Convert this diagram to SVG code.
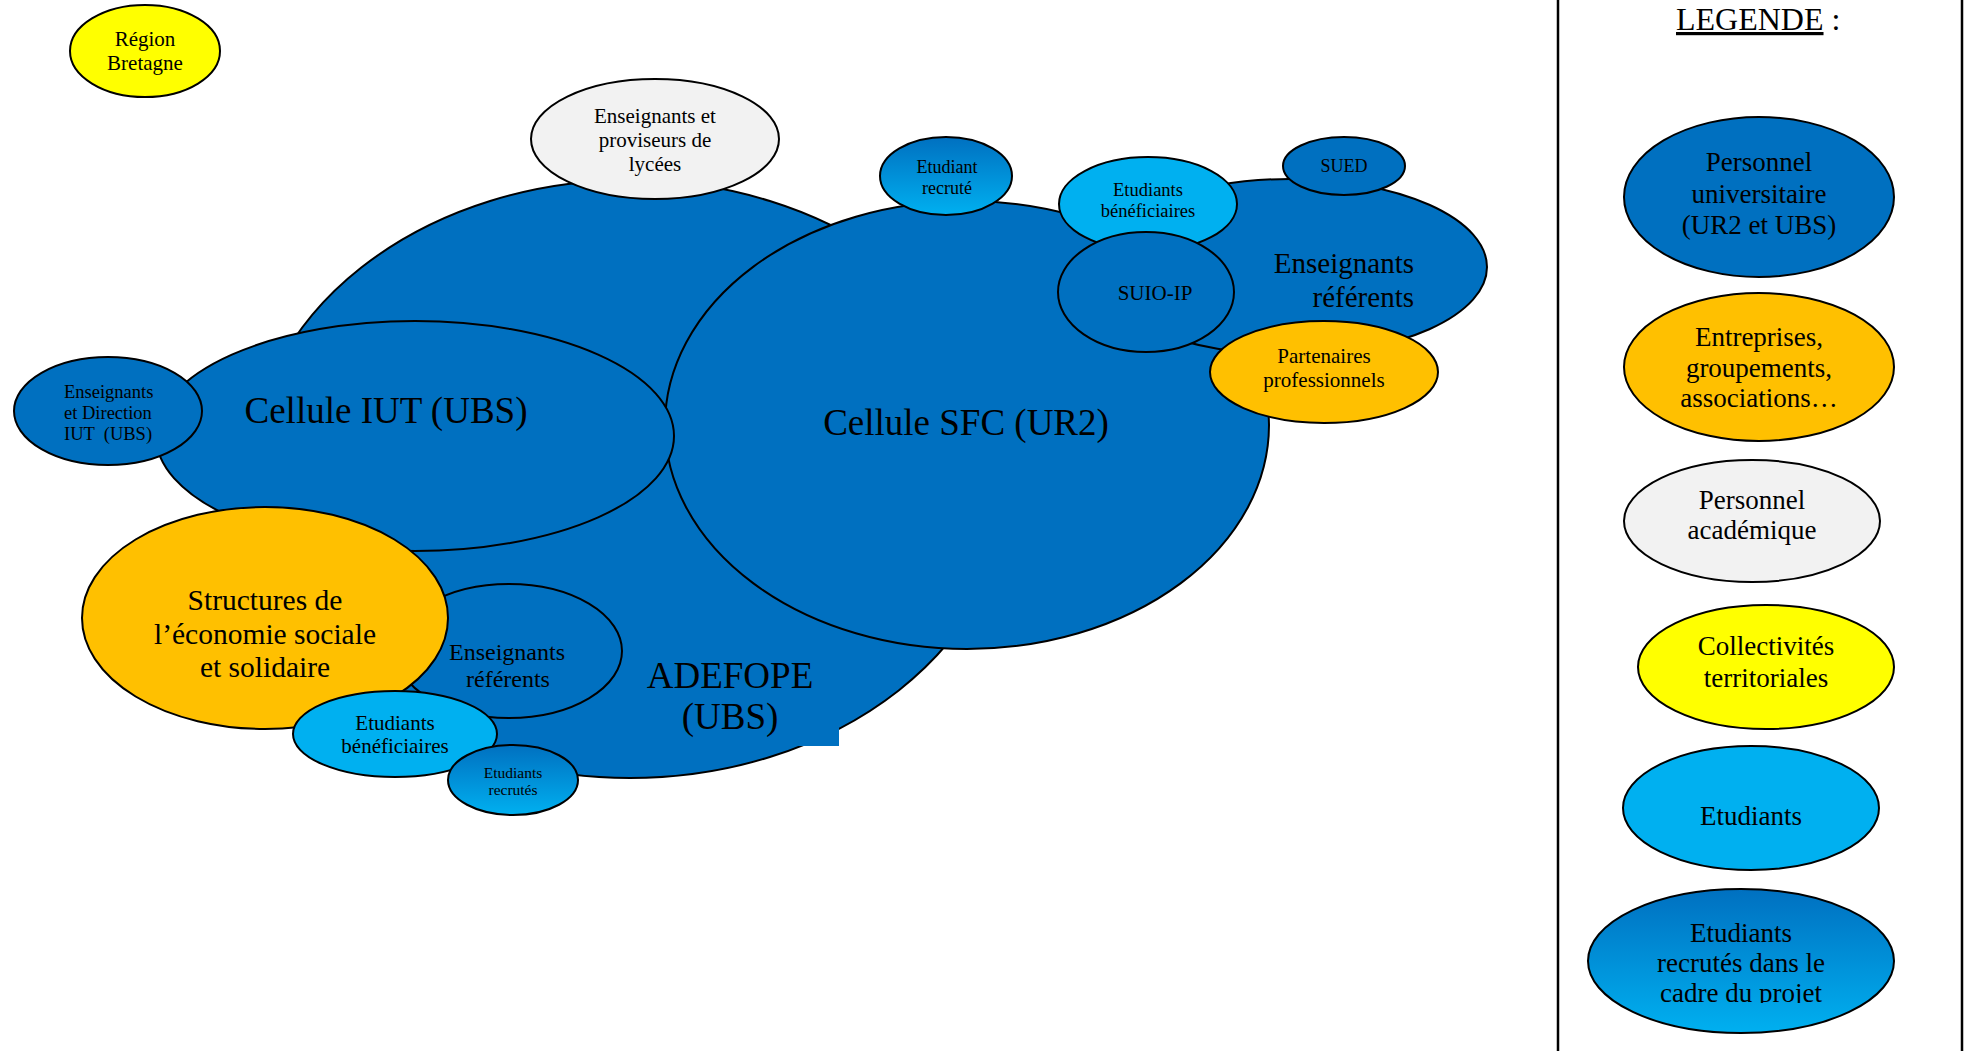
<svg xmlns="http://www.w3.org/2000/svg" width="1966" height="1051" viewBox="0 0 1966 1051">
<style>
.n{stroke:#000;stroke-width:2}
.blue{fill:#0070C0}
.org{fill:#FFC000}
.yel{fill:#FFFF00}
.cyan{fill:#00B0F0}
.grey{fill:#F2F2F2}
.grad{fill:url(#g)}
text{font-family:"Liberation Serif","Times New Roman",serif;fill:#000;text-anchor:middle}
.s{text-anchor:start}
.e{text-anchor:end}
.leg{font-size:27px}
</style>
<defs>
<linearGradient id="g" x1="0" y1="0" x2="0" y2="1"><stop offset="0" stop-color="#0070C0"/><stop offset="1" stop-color="#00B0F0"/></linearGradient>
<clipPath id="clipf"><rect x="1560" y="880" width="400" height="123"/></clipPath>
</defs>
<rect width="1966" height="1051" fill="#fff"/>

<g id="adefope">
<ellipse class="n blue" cx="630" cy="479" rx="380" ry="299"/>
<rect x="645" y="645" width="194" height="101" fill="#0070C0"/>
<text x="730" y="688" font-size="37">ADEFOPE</text>
<text x="730" y="729" font-size="37">(UBS)</text>
</g>

<g id="lycees">
<ellipse class="n grey" cx="655" cy="139" rx="124" ry="60"/>
<text x="655" y="123" font-size="21">Enseignants et</text>
<text x="655" y="147" font-size="21">proviseurs de</text>
<text x="655" y="171" font-size="21">lycées</text>
</g>

<g id="cellule-sfc">
<ellipse class="n blue" cx="967" cy="425" rx="302" ry="224"/>
<text x="966" y="435" font-size="37">Cellule SFC (UR2)</text>
</g>

<g id="cellule-iut">
<ellipse class="n blue" cx="415" cy="436" rx="259" ry="115"/>
<text x="386" y="423" font-size="37">Cellule IUT (UBS)</text>
</g>

<g id="direction-iut">
<ellipse class="n blue" cx="108" cy="411" rx="94" ry="54"/>
<text class="s" x="64" y="398" font-size="18.5">Enseignants</text>
<text class="s" x="64" y="419" font-size="18.5">et Direction</text>
<text class="s" x="64" y="440" font-size="18.5" xml:space="preserve">IUT  (UBS)</text>
</g>

<g id="enseignants-referents-sfc">
<ellipse class="n blue" cx="1290" cy="267" rx="197" ry="88"/>
<text class="e" x="1414" y="273" font-size="29">Enseignants</text>
<text class="e" x="1414" y="307" font-size="29">référents</text>
</g>

<g id="etudiants-beneficiaires-sfc">
<ellipse class="n cyan" cx="1148" cy="204" rx="89" ry="47"/>
<text x="1148" y="196" font-size="18.5">Etudiants</text>
<text x="1148" y="217" font-size="18.5">bénéficiaires</text>
</g>

<g id="suio-ip">
<ellipse class="n blue" cx="1146" cy="292" rx="88" ry="60"/>
<text x="1155" y="300" font-size="21">SUIO-IP</text>
</g>

<g id="sued">
<ellipse class="n blue" cx="1344" cy="166" rx="61" ry="29"/>
<text x="1344" y="172" font-size="18">SUED</text>
</g>

<g id="partenaires">
<ellipse class="n org" cx="1324" cy="372" rx="114" ry="51"/>
<text x="1324" y="363" font-size="21">Partenaires</text>
<text x="1324" y="387" font-size="21">professionnels</text>
</g>

<g id="etudiant-recrute">
<ellipse class="n grad" cx="946" cy="176" rx="66" ry="39"/>
<text x="947" y="173" font-size="18">Etudiant</text>
<text x="947" y="194" font-size="18">recruté</text>
</g>

<g id="enseignants-referents-adefope">
<ellipse class="n blue" cx="509" cy="651" rx="113" ry="67"/>
<text x="507" y="660" font-size="24">Enseignants</text>
<text x="508" y="687" font-size="24">référents</text>
</g>

<g id="structures-ess">
<ellipse class="n org" cx="265" cy="618" rx="183" ry="111"/>
<text x="265" y="610" font-size="29.5">Structures de</text>
<text x="265" y="644" font-size="29.5">l’économie sociale</text>
<text x="265" y="677" font-size="29.5">et solidaire</text>
</g>

<g id="etudiants-beneficiaires-adefope">
<ellipse class="n cyan" cx="395" cy="734" rx="102" ry="43"/>
<text x="395" y="730" font-size="21">Etudiants</text>
<text x="395" y="753" font-size="21">bénéficiaires</text>
</g>

<g id="etudiants-recrutes">
<ellipse class="n grad" cx="513" cy="780" rx="65" ry="35"/>
<text x="513" y="778" font-size="15.5">Etudiants</text>
<text x="513" y="795" font-size="15.5">recrutés</text>
</g>

<g id="region-bretagne">
<ellipse class="n yel" cx="145" cy="51" rx="75" ry="46"/>
<text x="145" y="46" font-size="21">Région</text>
<text x="145" y="70" font-size="21">Bretagne</text>
</g>

<g id="connectors"></g>

<g id="legende">
<line x1="1558" y1="0" x2="1558" y2="1051" stroke="#000" stroke-width="2.5"/>
<line x1="1962" y1="0" x2="1962" y2="1051" stroke="#000" stroke-width="2.5"/>
<text class="s" x="1676" y="30" font-size="32"><tspan text-decoration="underline">LEGENDE</tspan> :</text>
<g id="leg-personnel-universitaire">
<ellipse class="n blue" cx="1759" cy="197" rx="135" ry="80"/>
<text class="leg" x="1759" y="171">Personnel</text>
<text class="leg" x="1759" y="203">universitaire</text>
<text class="leg" x="1759" y="234">(UR2 et UBS)</text>
</g>
<g id="leg-entreprises">
<ellipse class="n org" cx="1759" cy="367" rx="135" ry="74"/>
<text class="leg" x="1759" y="346">Entreprises,</text>
<text class="leg" x="1759" y="377">groupements,</text>
<text class="leg" x="1759" y="407">associations…</text>
</g>
<g id="leg-personnel-academique">
<ellipse class="n grey" cx="1752" cy="521" rx="128" ry="61"/>
<text class="leg" x="1752" y="509">Personnel</text>
<text class="leg" x="1752" y="539">académique</text>
</g>
<g id="leg-collectivites">
<ellipse class="n yel" cx="1766" cy="667" rx="128" ry="62"/>
<text class="leg" x="1766" y="655">Collectivités</text>
<text class="leg" x="1766" y="687">territoriales</text>
</g>
<g id="leg-etudiants">
<ellipse class="n cyan" cx="1751" cy="808" rx="128" ry="62"/>
<text class="leg" x="1751" y="825">Etudiants</text>
</g>
<g id="leg-etudiants-recrutes">
<ellipse class="n grad" cx="1741" cy="961" rx="153" ry="72"/>
<g clip-path="url(#clipf)">
<text class="leg" x="1741" y="942">Etudiants</text>
<text class="leg" x="1741" y="972">recrutés dans le</text>
<text class="leg" x="1741" y="1002">cadre du projet</text>
</g>
</g>
</g>
</svg>
